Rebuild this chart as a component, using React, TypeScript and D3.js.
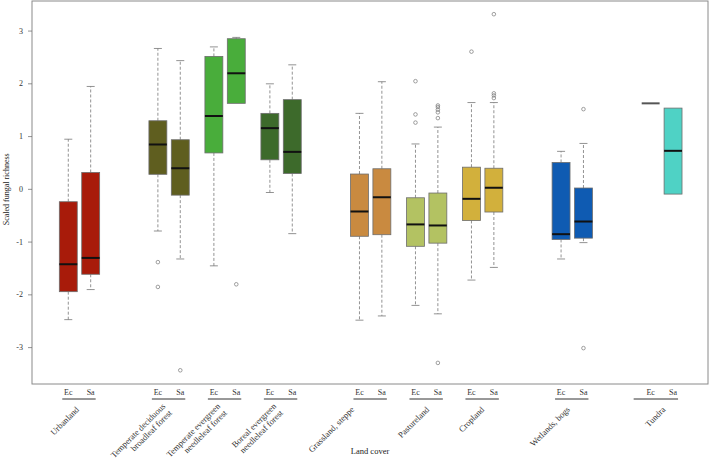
import React from "react";
import * as d3 from "d3";

// ---- data ----
const categories = [
  "Urbanland",
  "Temperate deciduous\nbroadleaf forest",
  "Temperate evergreen\nneedleleaf forest",
  "Boreal evergreen\nneedleleaf forest",
  "Grassland, steppe",
  "Pastureland",
  "Cropland",
  "Wetlands, bogs",
  "Tundra",
];
const seriesNames = ["Ec", "Sa"];
// [lower whisker, Q1, median, Q3, upper whisker]
const ecStats = [
  [-2.47, -1.94, -1.42, -0.235, 0.95],
  [-0.79, 0.285, 0.85, 1.3, 2.67],
  [-1.45, 0.69, 1.39, 2.52, 2.7],
  [-0.06, 0.56, 1.16, 1.44, 2.0],
  [-2.48, -0.89, -0.42, 0.29, 1.44],
  [-2.2, -1.08, -0.665, -0.16, 0.86],
  [-1.72, -0.59, -0.18, 0.42, 1.645],
  [-1.32, -0.95, -0.85, 0.51, 0.72],
  [1.63, 1.63, 1.63, 1.63, 1.63],
];
const ecOutliers = [[], [-1.38, -1.85], [], [], [], [2.05, 1.42, 1.265], [2.61], [], []];
const saStats = [
  [-1.9, -1.61, -1.3, 0.32, 1.95],
  [-1.32, -0.11, 0.4, 0.94, 2.44],
  [1.63, 1.63, 2.2, 2.855, 2.88],
  [-0.84, 0.3, 0.71, 1.7, 2.36],
  [-2.4, -0.86, -0.15, 0.39, 2.04],
  [-2.36, -1.02, -0.685, -0.07, 1.18],
  [-1.48, -0.43, 0.03, 0.4, 1.645],
  [-1.01, -0.925, -0.61, 0.025, 0.87],
  [-0.09, -0.09, 0.73, 1.54, 1.54],
];
const saOutliers = [
  [],
  [-3.43],
  [-1.8],
  [],
  [],
  [1.59, 1.56, 1.51, 1.46, 1.35, -3.29],
  [3.32, 1.82, 1.78, 1.73],
  [1.52, -3.01],
  [],
];
const yTicks = [-3, -2, -1, 0, 1, 2, 3];
const colors = [
  "#a81b0a",
  "#5f5e1f",
  "#49ad3b",
  "#3d6a2b",
  "#c98a40",
  "#b3c262",
  "#d2b03c",
  "#0f5bb2",
  "#4fd2c5",
];

// ---- layout ----
const W = 709;
const H = 459;
const frame = { left: 32, right: 708, top: 1, bottom: 384 };
const groupGap = [0, 3, 1.5, 1.5, 3, 1.5, 1.5, 3, 3];
const labelDx = [-2, -2, -3, -3, -18, 1, 0, -4, 2];
const lineStartExtra = [0, 0, 0, 0, 0, 0, 0, 0, 11];
const FONT = "'Liberation Serif', 'Times New Roman', serif";

export default function App() {
  const x = d3.scaleLinear().domain([-1.62, 28.56]).range([frame.left, frame.right]);
  const y = d3.scaleLinear().domain([-3.69, 3.57]).range([frame.bottom, frame.top]);

  const starts: number[] = [];
  let acc = 0;
  groupGap.forEach((g, i) => {
    acc += i === 0 ? 0 : g + 1;
    starts.push(acc);
  });

  const boxW = x(0.8) - x(0);
  const capW = 8;

  const drawBox = (pos: number, s: number[], outs: number[], color: string, key: string) => {
    const cx = x(pos);
    const [lo, q1, med, q3, hi] = s;
    const els: React.ReactNode[] = [];
    if (q1 === q3) {
      els.push(
        <line key={key + "deg"} x1={cx - boxW / 2} x2={cx + boxW / 2} y1={y(med)} y2={y(med)} stroke="#555" strokeWidth={2} />
      );
    } else {
      if (hi > q3) {
        els.push(
          <line key={key + "wh"} x1={cx} x2={cx} y1={y(q3)} y2={y(hi)} stroke="#777" strokeWidth={0.8} strokeDasharray="3,2" />,
          <line key={key + "ch"} x1={cx - capW / 2} x2={cx + capW / 2} y1={y(hi)} y2={y(hi)} stroke="#777" strokeWidth={0.8} />
        );
      }
      if (lo < q1) {
        els.push(
          <line key={key + "wl"} x1={cx} x2={cx} y1={y(q1)} y2={y(lo)} stroke="#777" strokeWidth={0.8} strokeDasharray="3,2" />,
          <line key={key + "cl"} x1={cx - capW / 2} x2={cx + capW / 2} y1={y(lo)} y2={y(lo)} stroke="#777" strokeWidth={0.8} />
        );
      }
      els.push(
        <rect key={key + "b"} x={cx - boxW / 2} y={y(q3)} width={boxW} height={y(q1) - y(q3)} fill={color} stroke="#6d6d6d" strokeWidth={0.8} />,
        <line key={key + "m"} x1={cx - boxW / 2} x2={cx + boxW / 2} y1={y(med)} y2={y(med)} stroke="#111" strokeWidth={2} />
      );
    }
    outs.forEach((o, j) => {
      els.push(<circle key={key + "o" + j} cx={cx} cy={y(o)} r={1.8} fill="none" stroke="#777" strokeWidth={0.7} />);
    });
    return els;
  };

  return (
    <svg width={W} height={H} style={{ position: "absolute", left: 0, top: 0, background: "#fff" }} fontFamily={FONT}>
      <rect x={frame.left} y={frame.top} width={frame.right - frame.left} height={frame.bottom - frame.top} fill="none" stroke="#8a8a8a" strokeWidth={1} />
      {yTicks.map((t) => (
        <g key={"yt" + t}>
          <line x1={frame.left - 4} x2={frame.left} y1={y(t)} y2={y(t)} stroke="#666" strokeWidth={0.7} />
          <text x={frame.left - 9} y={y(t)} dy="0.33em" textAnchor="end" fontSize={8} fill="#333">
            {t}
          </text>
        </g>
      ))}
      <text transform={`translate(6,${y(0)}) rotate(-90)`} textAnchor="middle" dy="0.33em" fontSize={8} fill="#222">
        Scaled fungal richness
      </text>
      {categories.map((c, i) => {
        const p0 = starts[i];
        const p1 = starts[i] + 1;
        return (
          <g key={"g" + i}>
            {drawBox(p0, ecStats[i], ecOutliers[i], colors[i], "e" + i)}
            {drawBox(p1, saStats[i], saOutliers[i], colors[i], "s" + i)}
          </g>
        );
      })}
      {categories.map((c, i) => {
        const p0 = starts[i];
        const p1 = starts[i] + 1;
        const center = (x(p0) + x(p1)) / 2;
        const lines = c.split("\n");
        const lh = 9.5;
        return (
          <g key={"lab" + i}>
            {[p0, p1].map((p, k) => (
              <text key={k} x={x(p)} y={395} textAnchor="middle" fontSize={8} fill="#333">
                {seriesNames[k]}
              </text>
            ))}
            <line x1={x(p0) - 6 - lineStartExtra[i]} x2={x(p1) + 5} y1={399} y2={399} stroke="#333" strokeWidth={1} />
            <text transform={`translate(${center + labelDx[i]},408) rotate(-45)`} textAnchor="end" fontSize={8.6} fill="#333">
              {lines.map((l, j) => (
                <tspan key={j} x={0} y={(j - (lines.length - 1) / 2) * lh + 3}>
                  {l}
                </tspan>
              ))}
            </text>
          </g>
        );
      })}
      <text x={370} y={454} textAnchor="middle" fontSize={8.5} fill="#222">
        Land cover
      </text>
    </svg>
  );
}
